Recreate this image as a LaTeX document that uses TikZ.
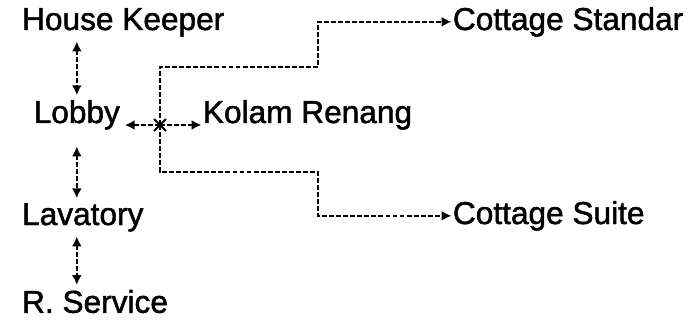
\documentclass[tikz,border=0pt]{standalone}
\usepackage{fontspec}
\setmainfont{Liberation Sans}[FakeBold=1.5]
\usepackage{tikz}
\usetikzlibrary{calc}
\usetikzlibrary{shapes.misc}
\usetikzlibrary{arrows.meta}

\tikzset{
    room/.style={anchor=base west, inner sep=3.3pt, font=\fontsize{22.5}{26}\selectfont},
    path/.style={line width=1.5pt, dash pattern=on 3.5pt off 1.5pt, >={Latex[length=7pt,width=7pt]}},
}

\begin{document}
\begin{tikzpicture}
    \useasboundingbox[fill=white] (0,0) rectangle (17.475,-8);
    % rooms
    \node[room] (keeper) at (0.43,-0.75) {House Keeper};
    \node[room] (lobby) at (0.72,-3.075) {Lobby};
    \node[room] (lavatory) at (0.43,-5.625) {Lavatory};
    \node[room] (service) at (0.43,-7.82) {R. Service};
    \node[room] (pool) at (4.95,-3.075) {Kolam Renang};
    \node[room] (standar) at (11.2,-0.75) {Cottage Standar};
    \node[room] (suite) at (11.2,-5.6) {Cottage Suite};
    % branch point and bends
    \coordinate (junction) at (4,-3.125);
    \coordinate (bendup) at (7.95,-1.675);
    \coordinate (benddown) at (7.95,-4.3);
    \node[cross out, draw, line width=1.5pt, minimum size=7pt, inner sep=0pt] (mark) at (junction) {};
    % vertical links
    \draw[path,<->] (lobby.north |- keeper.south) -- (lobby.north);
    \draw[path,<->,shorten <=0.3cm] (lobby.south) -- (lobby.south |- lavatory.north);
    \draw[path,<->] (lobby.south |- lavatory.south) -- (lobby.south |- service.north);
    % horizontal links
    \draw[path,->] (junction) -- (lobby.east |- junction);
    \draw[path,->,shorten >=-2.5pt] (junction) -- (pool.west |- junction);
    \draw[path,->,shorten >=-2.5pt] (junction) |- (bendup) |- (standar.west);
    \draw[path,->,shorten >=-2.5pt] (junction) |- (benddown) |- (suite.west);
\end{tikzpicture}
\end{document}
